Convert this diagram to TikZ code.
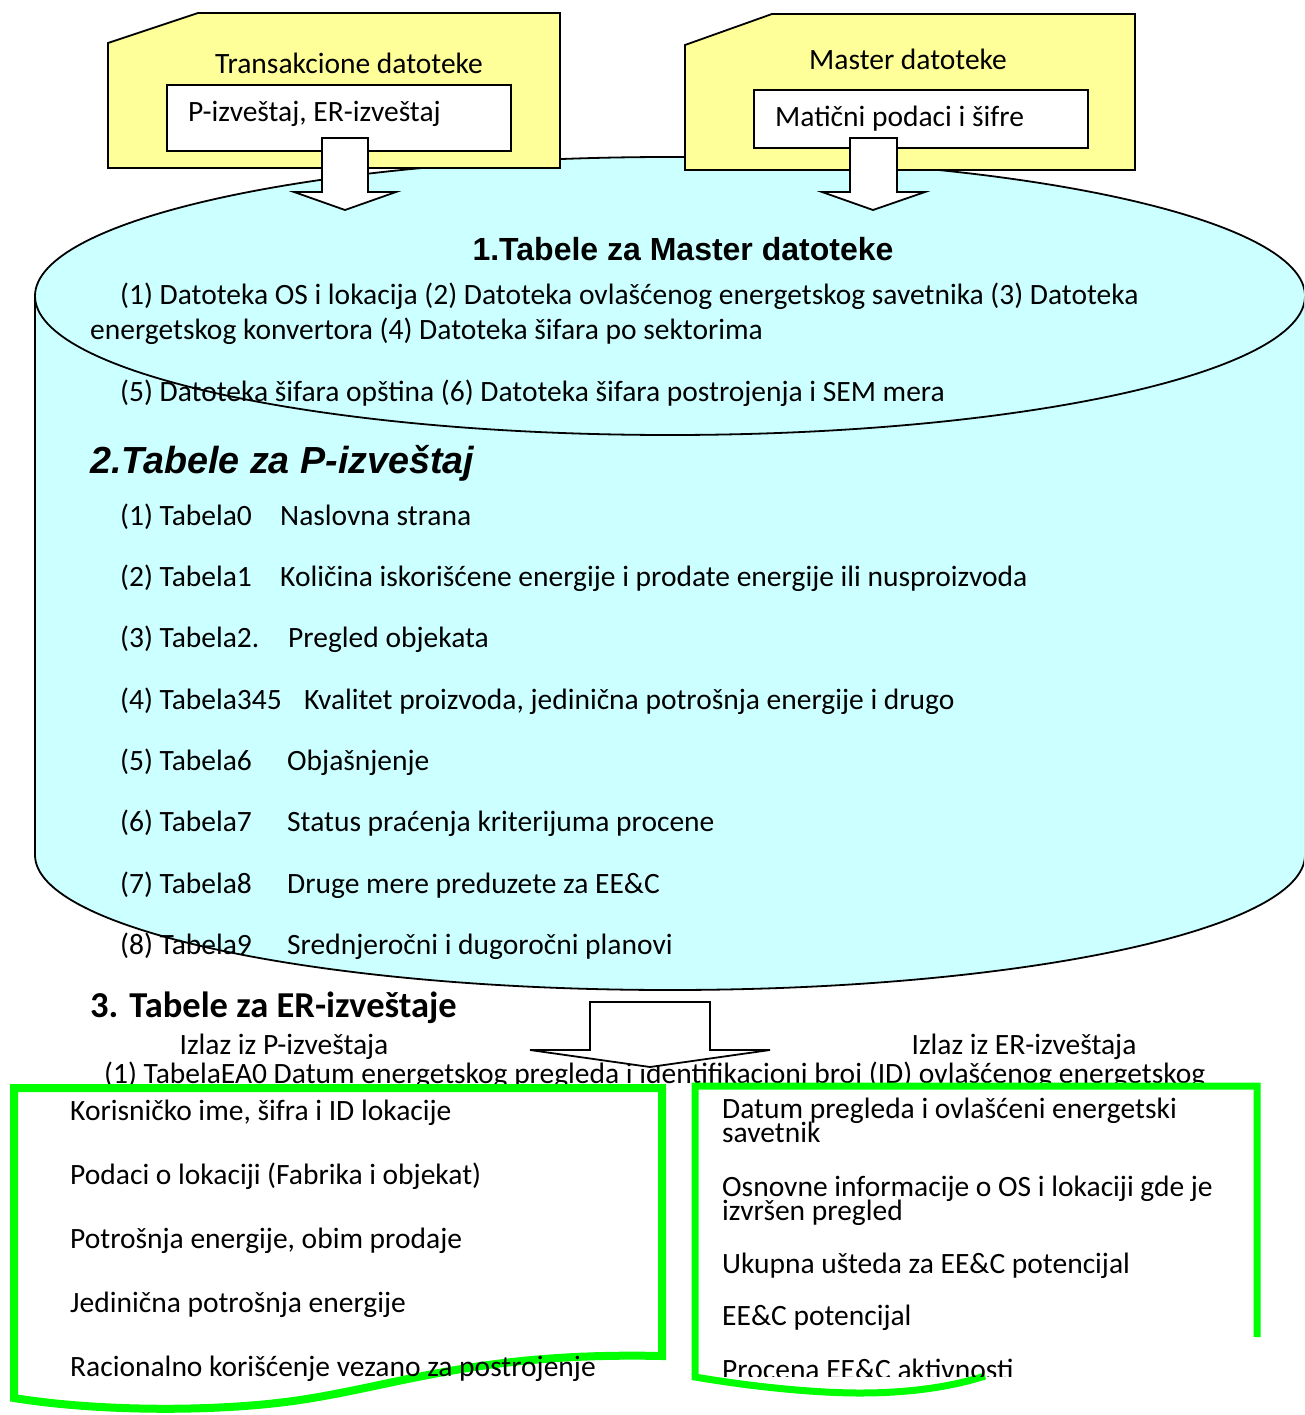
\documentclass[tikz,border=0pt]{standalone}
\usepackage{fontspec}
\setmainfont{Carlito}
\newfontfamily\arialf{Liberation Sans}
\definecolor{fyellow}{HTML}{FFFF99}
\definecolor{fcyan}{HTML}{CCFFFF}
\definecolor{fgreen}{HTML}{00FF00}
\begin{document}
\begin{tikzpicture}[x=1pt,y=-1pt,line join=miter,
  body/.style={font=\fontsize{29.5}{31}\selectfont, inner sep=0pt, anchor=base west},
  bodyc/.style={font=\fontsize{29.5}{31}\selectfont, inner sep=0pt, anchor=base},
  folderst/.style={draw=black, fill=fyellow, line width=1.8pt},
  inbox/.style={draw=black, fill=white, line width=1.8pt},
  blockarrow/.style={draw=black, fill=white, line width=1.8pt},
  cylline/.style={draw=black, line width=1.8pt},
  gline/.style={draw=fgreen, line width=8pt}]
\useasboundingbox (0,0) rectangle (1304,1415);
\clip (0,0) rectangle (1304,1415);

% ---------- cylinder ----------
\fill[fcyan] (35,296) -- (35,855) .. controls (35,929.6) and (319.3,990) .. (670,990)
  .. controls (1020.7,990) and (1305,929.6) .. (1305,855) -- (1305,296) -- cycle;
\draw[cylline] (35,296) -- (35,855) .. controls (35,929.6) and (319.3,990) .. (670,990)
  .. controls (1020.7,990) and (1305,929.6) .. (1305,855) -- (1305,296);
\filldraw[cylline, fill=fcyan] (670,296) ellipse [x radius=635, y radius=139];

% ---------- folders ----------
\filldraw[folderst] (108,43) -- (198,13) -- (560,13) -- (560,168) -- (108,168) -- cycle;
\filldraw[folderst] (685,45) -- (772,14) -- (1135,14) -- (1135,170) -- (685,170) -- cycle;
\node[inbox, minimum width=344pt, minimum height=66pt, inner sep=0pt] (tbox) at (339,118) {};
\node[inbox, minimum width=334pt, minimum height=58pt, inner sep=0pt] (mbox) at (921,119) {};
\node[bodyc] (ttitle) at (349,74) {Transakcione datoteke};
\node[body] (ttext) at (188,122) {P-izveštaj, ER-izveštaj};
\node[bodyc] (mtitle) at (908,70) {Master datoteke};
\node[body] (mtext) at (775,127) {Matični podaci i šifre};

% ---------- top arrows ----------
\filldraw[blockarrow] (322,138) -- (368,138) -- (368,192) -- (396,192) -- (345,210) -- (294,192) -- (322,192) -- cycle;
\filldraw[blockarrow] (850,138) -- (897,138) -- (897,192) -- (925,192) -- (873,210) -- (822,192) -- (850,192) -- cycle;

% ---------- cylinder texts ----------
\node[inner sep=0pt, anchor=base, font=\arialf\bfseries\fontsize{32}{34}\selectfont] (h1) at (683,261) {1.Tabele za Master datoteke};
\node[body] (m1) at (120,304) {(1) Datoteka OS i lokacija (2) Datoteka ovlašćenog energetskog savetnika (3) Datoteka};
\node[body] (m2) at (90,339) {energetskog konvertora (4) Datoteka šifara po sektorima};
\node[body] (m3) at (120,401) {(5) Datoteka šifara opština (6) Datoteka šifara postrojenja i SEM mera};

\node[inner sep=0pt, anchor=base west, font=\arialf\bfseries\itshape\fontsize{37.7}{40}\selectfont] (h2) at (90,473) {2.Tabele za P-izveštaj};
\node[body] (p1a) at (120,525) {(1) Tabela0};   \node[body] (p1b) at (280,525) {Naslovna strana};
\node[body] (p2a) at (120,586) {(2) Tabela1};   \node[body] (p2b) at (280,586) {Količina iskorišćene energije i prodate energije ili nusproizvoda};
\node[body] (p3a) at (120,647) {(3) Tabela2.};  \node[body] (p3b) at (288,647) {Pregled objekata};
\node[body] (p4a) at (120,709) {(4) Tabela345}; \node[body] (p4b) at (304,709) {Kvalitet proizvoda, jedinična potrošnja energije i drugo};
\node[body] (p5a) at (120,770) {(5) Tabela6};   \node[body] (p5b) at (287,770) {Objašnjenje};
\node[body] (p6a) at (120,831) {(6) Tabela7};   \node[body] (p6b) at (287,831) {Status praćenja kriterijuma procene};
\node[body] (p7a) at (120,893) {(7) Tabela8};   \node[body] (p7b) at (287,893) {Druge mere preduzete za EE\&C};
\node[body] (p8a) at (120,954) {(8) Tabela9};   \node[body] (p8b) at (287,954) {Srednjeročni i dugoročni planovi};

% ---------- section 3 ----------
\node[inner sep=0pt, anchor=base west, font=\bfseries\fontsize{36.5}{38}\selectfont] (h3) at (90,1017) {3. Tabele za ER-izveštaje};
\node[bodyc] (outp) at (284,1054) {Izlaz iz P-izveštaja};
\node[bodyc] (oute) at (1024,1054) {Izlaz iz ER-izveštaja};
\node[body] (ea0) at (104,1083) {(1) TabelaEA0 Datum energetskog pregleda i identifikacioni broj (ID) ovlašćenog energetskog};

\filldraw[blockarrow] (590,1002) -- (710,1002) -- (710,1050) -- (770,1050) -- (650,1067) -- (530,1050) -- (590,1050) -- cycle;

% ---------- left green document ----------
\path[fill=white] (14,1088) -- (662,1088) -- (662,1356) .. controls (480,1352) and (400,1385) .. (300,1400)
  .. controls (220,1412) and (100,1412) .. (14,1398) -- cycle;
\draw[gline] (14,1088) -- (662,1088) -- (662,1356) .. controls (480,1352) and (400,1385) .. (300,1400)
  .. controls (220,1412) and (100,1412) .. (14,1398) -- cycle;
\node[body] (l1) at (70,1120) {Korisničko ime, šifra i ID lokacije};
\node[body] (l2) at (70,1184) {Podaci o lokaciji (Fabrika i objekat)};
\node[body] (l3) at (70,1248) {Potrošnja energije, obim prodaje};
\node[body] (l4) at (70,1312) {Jedinična potrošnja energije};
\node[body] (l5) at (70,1376) {Racionalno korišćenje vezano za postrojenje};

% ---------- right green document ----------
\path[fill=white] (695,1086) -- (1257,1086) -- (1257,1337) -- (985,1376)
  .. controls (960,1384) and (920,1393) .. (860,1393) .. controls (820,1393) and (760,1388) .. (695,1377) -- cycle;
\draw[gline, line width=7pt] (1257,1337) -- (1257,1086) -- (695,1086) -- (695,1377)
  .. controls (760,1388) and (820,1393) .. (860,1393) .. controls (920,1393) and (960,1384) .. (985,1376);
\node[body] (r1) at (722,1118) {Datum pregleda i ovlašćeni energetski};
\node[body] (r1b) at (722,1142) {savetnik};
\node[body] (r2) at (722,1196) {Osnovne informacije o OS i lokaciji gde je};
\node[body] (r2b) at (722,1220) {izvršen pregled};
\node[body] (r3) at (722,1273) {Ukupna ušteda za EE\&C potencijal};
\node[body] (r4) at (722,1325) {EE\&C potencijal};
\begin{scope}
  \clip (700,1340) rectangle (1100,1376);
  \node[body] (r5) at (722,1379) {Procena EE\&C aktivnosti};
\end{scope}
\end{tikzpicture}
\end{document}
